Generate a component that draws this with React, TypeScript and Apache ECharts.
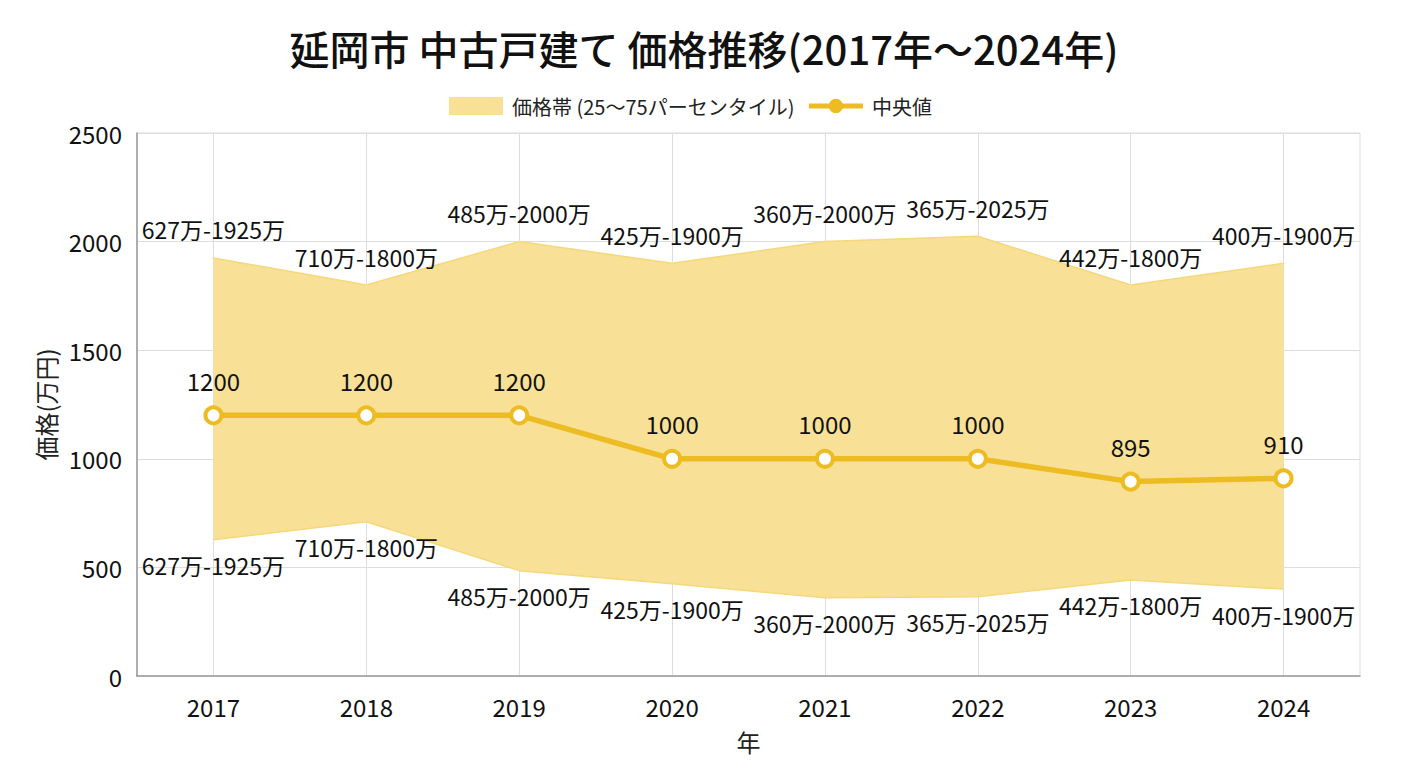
import React, { useEffect, useRef } from "react";
import * as echarts from "echarts";

const years = ["2017", "2018", "2019", "2020", "2021", "2022", "2023", "2024"];
const lowerValues = [627, 710, 485, 425, 360, 365, 442, 400];
const upperValues = [1925, 1800, 2000, 1900, 2000, 2025, 1800, 1900];
const medianValues = [1200, 1200, 1200, 1000, 1000, 1000, 895, 910];

const BAND_NAME = "価格帯 (25～75パーセンタイル)";
const MEDIAN_NAME = "中央値";
const FONT = "'Noto Sans CJK JP', 'Noto Sans', sans-serif";
const GOLD = "#EDBB22";
const BAND_FILL = "#F8E196";
const BAND_EDGE = "#F5D77C";

export default function App() {
  const ref = useRef<HTMLDivElement>(null);
  useEffect(() => {
    document.body.style.margin = "0";
    if (!ref.current) return;
    const chart = echarts.init(ref.current, null, { renderer: "svg" });
    const rangeLabel = (i: number) => `${lowerValues[i]}万-${upperValues[i]}万`;
    const diff = upperValues.map((u, i) => u - lowerValues[i]);
    chart.setOption({
      animation: false,
      textStyle: { fontFamily: FONT },
      title: {
        text: "延岡市 中古戸建て 価格推移(2017年～2024年)",
        left: "center",
        top: 23,
        textStyle: { fontFamily: FONT, fontSize: 40, fontWeight: 500, color: "#111" },
      },
      legend: {
        top: 91,
        left: 444,
        data: [
          { name: BAND_NAME, icon: "rect" },
          {
            name: MEDIAN_NAME,
            itemStyle: { color: GOLD, borderColor: GOLD, borderWidth: 0 },
            lineStyle: { width: 5, color: GOLD },
          },
        ],
        itemWidth: 54,
        itemHeight: 18,
        itemGap: 12,
        textStyle: { fontFamily: FONT, fontSize: 20, color: "#222", padding: [0, 0, 0, 4] },
      },
      grid: {
        left: 137,
        right: 48,
        top: 133,
        bottom: 92,
        show: true,
        borderColor: "#dddddd",
        borderWidth: 1,
      },
      xAxis: {
        type: "category",
        data: years,
        boundaryGap: true,
        name: "年",
        nameLocation: "middle",
        nameGap: 53,
        nameTextStyle: { fontFamily: FONT, fontSize: 24, color: "#222" },
        axisLine: { lineStyle: { color: "#999", width: 1.5 } },
        axisTick: { show: false, alignWithLabel: true },
        axisLabel: { fontFamily: FONT, fontSize: 24, color: "#111", margin: 18 },
        splitLine: { show: true, alignWithLabel: true, lineStyle: { color: "#dddddd" } },
      },
      yAxis: {
        type: "value",
        min: 0,
        max: 2500,
        interval: 500,
        name: "価格(万円)",
        nameLocation: "middle",
        nameGap: 80,
        nameTextStyle: { fontFamily: FONT, fontSize: 24, color: "#222" },
        axisLine: { show: true, lineStyle: { color: "#999", width: 1.5 } },
        axisTick: { show: false },
        axisLabel: {
          fontFamily: FONT,
          fontSize: 24,
          color: "#111",
          margin: 15,
          formatter: (v: number) => String(v),
        },
        splitLine: { show: true, lineStyle: { color: "#dddddd" } },
      },
      series: [
        {
          name: "lower",
          type: "line",
          stack: "band",
          data: lowerValues,
          symbol: "circle",
          symbolSize: 2,
          itemStyle: { color: "rgba(0,0,0,0)" },
          lineStyle: { color: BAND_EDGE, width: 1.5 },
          label: {
            show: true,
            position: "bottom",
            distance: 13,
            fontFamily: FONT,
            fontSize: 23,
            color: "#111",
            formatter: (p: any) => rangeLabel(p.dataIndex),
          },
          emphasis: { disabled: true },
          silent: true,
          z: 2,
        },
        {
          name: BAND_NAME,
          type: "line",
          stack: "band",
          data: diff,
          symbol: "circle",
          symbolSize: 2,
          itemStyle: { color: BAND_FILL },
          lineStyle: { color: BAND_EDGE, width: 1.5 },
          areaStyle: { color: BAND_FILL, opacity: 1 },
          label: {
            show: true,
            position: "top",
            distance: 16,
            fontFamily: FONT,
            fontSize: 23,
            color: "#111",
            formatter: (p: any) => rangeLabel(p.dataIndex),
          },
          emphasis: { disabled: true },
          silent: true,
          z: 2,
        },
        {
          name: MEDIAN_NAME,
          type: "line",
          data: medianValues,
          symbol: "circle",
          symbolSize: 16,
          itemStyle: { color: "#ffffff", borderColor: GOLD, borderWidth: 4 },
          lineStyle: { color: GOLD, width: 5.5 },
          label: {
            show: true,
            position: "top",
            distance: 13,
            fontFamily: FONT,
            fontSize: 24,
            color: "#111",
          },
          z: 5,
        },
      ],
    });
    return () => chart.dispose();
  }, []);
  return <div ref={ref} style={{ width: 1408, height: 768 }} />;
}
